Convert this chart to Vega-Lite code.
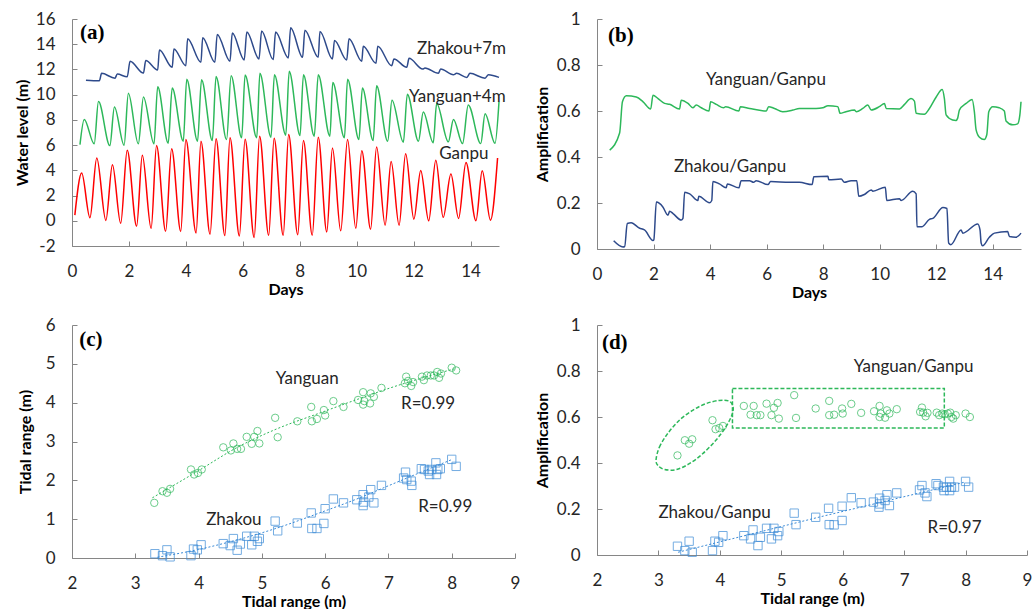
{
"$schema": "https://vega.github.io/schema/vega-lite/v6.json",
"padding": {"left": 14, "top": 10, "right": 0, "bottom": 0},
"columns": 2,
"align": "each",
"bounds": "flush",
"spacing": {"column": 82, "row": 76},
"datasets": {
"ganpu": [{"x":0.1,"y":0.45},{"x":0.34,"y":3.78},{"x":0.63,"y":0.24},{"x":0.87,"y":4.98},{"x":1.19,"y":0.03},{"x":1.42,"y":4.45},{"x":1.71,"y":-0.2},{"x":1.94,"y":5.6},{"x":2.27,"y":-0.43},{"x":2.47,"y":5.19},{"x":2.78,"y":-0.6},{"x":2.97,"y":5.96},{"x":3.29,"y":-0.83},{"x":3.5,"y":5.72},{"x":3.82,"y":-0.85},{"x":4.0,"y":6.44},{"x":4.36,"y":-0.96},{"x":4.53,"y":6.31},{"x":4.85,"y":-1.07},{"x":5.06,"y":6.5},{"x":5.37,"y":-1.17},{"x":5.55,"y":6.58},{"x":5.88,"y":-1.2},{"x":6.08,"y":6.47},{"x":6.4,"y":-1.33},{"x":6.59,"y":6.71},{"x":6.91,"y":-1.15},{"x":7.1,"y":6.55},{"x":7.42,"y":-1.15},{"x":7.61,"y":6.84},{"x":7.93,"y":-1.1},{"x":8.13,"y":6.36},{"x":8.44,"y":-1.15},{"x":8.65,"y":6.63},{"x":8.95,"y":-0.88},{"x":9.15,"y":5.78},{"x":9.44,"y":-0.8},{"x":9.68,"y":6.44},{"x":9.97,"y":-0.6},{"x":10.18,"y":5.56},{"x":10.49,"y":-0.67},{"x":10.7,"y":5.86},{"x":11.0,"y":-0.35},{"x":11.21,"y":4.71},{"x":11.49,"y":-0.35},{"x":11.72,"y":5.32},{"x":12.01,"y":0.13},{"x":12.25,"y":3.99},{"x":12.53,"y":0.0},{"x":12.78,"y":4.79},{"x":13.04,"y":0.27},{"x":13.31,"y":3.7},{"x":13.58,"y":0.19},{"x":13.84,"y":4.63},{"x":14.19,"y":0.0},{"x":14.41,"y":3.97},{"x":14.7,"y":0.05},{"x":14.95,"y":4.98}],
"yanguan": [{"x":0.28,"y":6.04},{"x":0.43,"y":8.04},{"x":0.78,"y":6.1},{"x":0.93,"y":9.45},{"x":1.33,"y":5.96},{"x":1.49,"y":9.02},{"x":1.83,"y":5.99},{"x":1.98,"y":10.12},{"x":2.33,"y":6.1},{"x":2.51,"y":9.82},{"x":2.88,"y":6.1},{"x":3.01,"y":10.62},{"x":3.38,"y":6.15},{"x":3.52,"y":10.52},{"x":3.91,"y":6.31},{"x":4.03,"y":11.23},{"x":4.41,"y":6.31},{"x":4.55,"y":11.18},{"x":4.93,"y":6.36},{"x":5.06,"y":11.45},{"x":5.43,"y":6.44},{"x":5.59,"y":11.5},{"x":5.96,"y":6.58},{"x":6.08,"y":11.55},{"x":6.49,"y":6.58},{"x":6.6,"y":11.69},{"x":6.99,"y":6.63},{"x":7.11,"y":11.58},{"x":7.51,"y":6.79},{"x":7.63,"y":11.85},{"x":8.01,"y":6.76},{"x":8.13,"y":11.58},{"x":8.51,"y":6.71},{"x":8.65,"y":11.58},{"x":9.06,"y":6.71},{"x":9.16,"y":10.97},{"x":9.57,"y":6.58},{"x":9.68,"y":11.23},{"x":10.08,"y":6.44},{"x":10.2,"y":10.52},{"x":10.58,"y":6.36},{"x":10.7,"y":10.7},{"x":11.09,"y":6.31},{"x":11.24,"y":9.56},{"x":11.64,"y":6.23},{"x":11.78,"y":10.04},{"x":12.17,"y":6.31},{"x":12.34,"y":8.62},{"x":12.69,"y":6.18},{"x":12.81,"y":9.29},{"x":13.22,"y":6.26},{"x":13.4,"y":8.04},{"x":13.72,"y":6.12},{"x":13.92,"y":9.18},{"x":14.36,"y":6.12},{"x":14.51,"y":8.49},{"x":14.86,"y":6.15},{"x":15.0,"y":9.45}],
"zhakou": [{"x":0.49,"y":11.15},{"x":0.96,"y":11.1},{"x":1.04,"y":11.69},{"x":1.51,"y":11.31},{"x":1.59,"y":11.63},{"x":1.94,"y":11.42},{"x":2.04,"y":12.65},{"x":2.51,"y":11.71},{"x":2.59,"y":12.7},{"x":3.01,"y":11.95},{"x":3.07,"y":13.55},{"x":3.52,"y":12.17},{"x":3.58,"y":13.63},{"x":4.0,"y":12.3},{"x":4.06,"y":14.43},{"x":4.53,"y":12.57},{"x":4.59,"y":14.51},{"x":5.02,"y":12.57},{"x":5.1,"y":14.78},{"x":5.55,"y":12.65},{"x":5.63,"y":14.88},{"x":6.05,"y":12.75},{"x":6.14,"y":14.96},{"x":6.57,"y":12.83},{"x":6.66,"y":15.04},{"x":7.07,"y":12.78},{"x":7.15,"y":14.96},{"x":7.6,"y":12.91},{"x":7.68,"y":15.31},{"x":8.1,"y":12.96},{"x":8.18,"y":15.1},{"x":8.65,"y":12.96},{"x":8.71,"y":15.01},{"x":9.15,"y":12.83},{"x":9.22,"y":14.3},{"x":9.65,"y":12.75},{"x":9.73,"y":14.43},{"x":10.18,"y":12.65},{"x":10.23,"y":13.84},{"x":10.68,"y":12.49},{"x":10.74,"y":13.84},{"x":11.23,"y":12.3},{"x":11.31,"y":12.83},{"x":11.76,"y":12.17},{"x":11.84,"y":12.88},{"x":12.32,"y":12.03},{"x":12.4,"y":12.11},{"x":12.87,"y":11.69},{"x":12.95,"y":12.03},{"x":13.4,"y":11.58},{"x":13.51,"y":11.69},{"x":13.87,"y":11.37},{"x":13.98,"y":11.69},{"x":14.51,"y":11.31},{"x":14.63,"y":11.58},{"x":15.0,"y":11.37}],
"ampY": [{"x":0.45,"y":0.43},{"x":0.8,"y":0.504},{"x":0.9,"y":0.64},{"x":1.04,"y":0.666},{"x":1.39,"y":0.661},{"x":1.63,"y":0.64},{"x":1.9,"y":0.609},{"x":1.98,"y":0.669},{"x":2.16,"y":0.654},{"x":2.39,"y":0.633},{"x":2.57,"y":0.629},{"x":2.92,"y":0.609},{"x":2.98,"y":0.647},{"x":3.22,"y":0.633},{"x":3.39,"y":0.614},{"x":3.51,"y":0.626},{"x":3.69,"y":0.614},{"x":3.96,"y":0.6},{"x":4.02,"y":0.64},{"x":4.22,"y":0.629},{"x":4.48,"y":0.614},{"x":4.55,"y":0.619},{"x":5.02,"y":0.6},{"x":5.07,"y":0.619},{"x":5.4,"y":0.611},{"x":5.99,"y":0.6},{"x":6.07,"y":0.619},{"x":6.28,"y":0.611},{"x":6.57,"y":0.597},{"x":6.93,"y":0.604},{"x":7.16,"y":0.611},{"x":7.75,"y":0.611},{"x":7.99,"y":0.614},{"x":8.17,"y":0.623},{"x":8.52,"y":0.619},{"x":8.6,"y":0.59},{"x":8.81,"y":0.597},{"x":9.11,"y":0.604},{"x":9.17,"y":0.597},{"x":9.4,"y":0.611},{"x":9.58,"y":0.626},{"x":9.7,"y":0.604},{"x":9.99,"y":0.619},{"x":10.17,"y":0.633},{"x":10.23,"y":0.611},{"x":10.7,"y":0.609},{"x":10.88,"y":0.629},{"x":11.11,"y":0.654},{"x":11.23,"y":0.643},{"x":11.29,"y":0.59},{"x":11.58,"y":0.586},{"x":11.76,"y":0.611},{"x":12.0,"y":0.661},{"x":12.21,"y":0.694},{"x":12.29,"y":0.654},{"x":12.35,"y":0.583},{"x":12.58,"y":0.561},{"x":12.7,"y":0.559},{"x":12.76,"y":0.569},{"x":12.82,"y":0.604},{"x":13.06,"y":0.633},{"x":13.27,"y":0.65},{"x":13.35,"y":0.597},{"x":13.41,"y":0.519},{"x":13.53,"y":0.486},{"x":13.7,"y":0.476},{"x":13.79,"y":0.497},{"x":13.86,"y":0.597},{"x":14.0,"y":0.619},{"x":14.23,"y":0.614},{"x":14.41,"y":0.6},{"x":14.47,"y":0.557},{"x":14.71,"y":0.54},{"x":14.88,"y":0.544},{"x":14.96,"y":0.583},{"x":15.0,"y":0.64}],
"ampZ": [{"x":0.59,"y":0.036},{"x":0.92,"y":0.009},{"x":0.98,"y":0.011},{"x":1.07,"y":0.111},{"x":1.21,"y":0.114},{"x":1.51,"y":0.09},{"x":1.63,"y":0.086},{"x":1.68,"y":0.083},{"x":1.98,"y":0.037},{"x":2.01,"y":0.04},{"x":2.1,"y":0.204},{"x":2.33,"y":0.183},{"x":2.51,"y":0.147},{"x":2.57,"y":0.164},{"x":2.69,"y":0.154},{"x":2.98,"y":0.126},{"x":3.04,"y":0.133},{"x":3.1,"y":0.247},{"x":3.28,"y":0.24},{"x":3.57,"y":0.211},{"x":3.6,"y":0.229},{"x":3.98,"y":0.201},{"x":4.06,"y":0.211},{"x":4.1,"y":0.294},{"x":4.33,"y":0.283},{"x":4.57,"y":0.266},{"x":4.61,"y":0.283},{"x":5.02,"y":0.266},{"x":5.1,"y":0.297},{"x":5.4,"y":0.297},{"x":5.54,"y":0.29},{"x":5.63,"y":0.297},{"x":6.05,"y":0.28},{"x":6.14,"y":0.293},{"x":6.81,"y":0.29},{"x":7.16,"y":0.29},{"x":7.61,"y":0.28},{"x":7.67,"y":0.314},{"x":8.17,"y":0.316},{"x":8.2,"y":0.301},{"x":8.64,"y":0.304},{"x":8.75,"y":0.29},{"x":8.99,"y":0.297},{"x":9.19,"y":0.297},{"x":9.26,"y":0.229},{"x":9.46,"y":0.237},{"x":9.7,"y":0.257},{"x":9.76,"y":0.251},{"x":10.2,"y":0.269},{"x":10.25,"y":0.211},{"x":10.7,"y":0.219},{"x":10.76,"y":0.211},{"x":11.17,"y":0.251},{"x":11.29,"y":0.24},{"x":11.32,"y":0.097},{"x":11.5,"y":0.097},{"x":11.76,"y":0.129},{"x":11.88,"y":0.133},{"x":12.24,"y":0.18},{"x":12.38,"y":0.176},{"x":12.44,"y":0.026},{"x":12.52,"y":0.019},{"x":12.88,"y":0.083},{"x":12.94,"y":0.069},{"x":13.47,"y":0.109},{"x":13.55,"y":0.083},{"x":13.59,"y":0.026},{"x":13.64,"y":0.014},{"x":13.88,"y":0.051},{"x":14.06,"y":0.069},{"x":14.53,"y":0.076},{"x":14.59,"y":0.054},{"x":14.82,"y":0.051},{"x":15.0,"y":0.069}],
"cY": [{"x":3.3,"y":1.42},{"x":3.43,"y":1.72},{"x":3.5,"y":1.68},{"x":3.55,"y":1.78},{"x":3.88,"y":2.28},{"x":3.93,"y":2.15},{"x":3.99,"y":2.19},{"x":4.05,"y":2.28},{"x":4.39,"y":2.85},{"x":4.51,"y":2.77},{"x":4.55,"y":2.95},{"x":4.61,"y":2.81},{"x":4.67,"y":2.81},{"x":4.76,"y":3.12},{"x":4.84,"y":2.94},{"x":4.88,"y":3.12},{"x":4.93,"y":3.27},{"x":4.96,"y":2.95},{"x":5.21,"y":3.61},{"x":5.25,"y":3.11},{"x":5.56,"y":3.52},{"x":5.78,"y":3.89},{"x":5.79,"y":3.52},{"x":5.87,"y":3.58},{"x":5.98,"y":3.81},{"x":6.0,"y":3.67},{"x":6.13,"y":4.04},{"x":6.29,"y":3.89},{"x":6.52,"y":4.07},{"x":6.6,"y":4.27},{"x":6.6,"y":3.95},{"x":6.62,"y":4.04},{"x":6.71,"y":3.98},{"x":6.72,"y":4.24},{"x":6.77,"y":4.15},{"x":6.89,"y":4.38},{"x":7.26,"y":4.5},{"x":7.28,"y":4.67},{"x":7.31,"y":4.56},{"x":7.36,"y":4.43},{"x":7.39,"y":4.53},{"x":7.53,"y":4.67},{"x":7.56,"y":4.58},{"x":7.61,"y":4.7},{"x":7.67,"y":4.7},{"x":7.72,"y":4.7},{"x":7.77,"y":4.79},{"x":7.8,"y":4.64},{"x":7.83,"y":4.75},{"x":8.0,"y":4.9},{"x":8.07,"y":4.83}],
"cZ": [{"x":3.31,"y":0.11},{"x":3.43,"y":0.06},{"x":3.5,"y":0.21},{"x":3.55,"y":0.03},{"x":3.88,"y":0.06},{"x":3.92,"y":0.23},{"x":3.98,"y":0.21},{"x":4.04,"y":0.34},{"x":4.39,"y":0.37},{"x":4.5,"y":0.32},{"x":4.55,"y":0.5},{"x":4.61,"y":0.2},{"x":4.66,"y":0.36},{"x":4.76,"y":0.56},{"x":4.84,"y":0.34},{"x":4.88,"y":0.56},{"x":4.93,"y":0.43},{"x":4.96,"y":0.5},{"x":5.21,"y":0.95},{"x":5.25,"y":0.7},{"x":5.56,"y":0.9},{"x":5.78,"y":1.16},{"x":5.79,"y":0.76},{"x":5.87,"y":0.76},{"x":5.98,"y":0.89},{"x":6.0,"y":1.27},{"x":6.13,"y":1.52},{"x":6.29,"y":1.42},{"x":6.5,"y":1.5},{"x":6.6,"y":1.63},{"x":6.6,"y":1.35},{"x":6.61,"y":1.44},{"x":6.69,"y":1.57},{"x":6.72,"y":1.76},{"x":6.77,"y":1.42},{"x":6.89,"y":1.87},{"x":7.24,"y":2.06},{"x":7.27,"y":2.21},{"x":7.29,"y":2.02},{"x":7.36,"y":1.98},{"x":7.37,"y":1.87},{"x":7.52,"y":2.3},{"x":7.57,"y":2.28},{"x":7.63,"y":2.24},{"x":7.65,"y":2.15},{"x":7.68,"y":2.28},{"x":7.75,"y":2.45},{"x":7.76,"y":2.15},{"x":7.78,"y":2.28},{"x":7.82,"y":2.3},{"x":8.0,"y":2.54},{"x":8.07,"y":2.36}],
"cYfit": [{"x":3.27,"y":1.55},{"x":4.0,"y":2.25},{"x":4.59,"y":2.83},{"x":5.2,"y":3.3},{"x":5.96,"y":3.76},{"x":6.5,"y":4.08},{"x":7.01,"y":4.37},{"x":7.5,"y":4.62},{"x":8.06,"y":4.88}],
"cZfit": [{"x":3.35,"y":0.02},{"x":4.0,"y":0.22},{"x":4.48,"y":0.41},{"x":5.2,"y":0.75},{"x":5.96,"y":1.19},{"x":6.5,"y":1.52},{"x":7.0,"y":1.86},{"x":7.5,"y":2.2},{"x":8.01,"y":2.54}],
"dY": [{"x":3.31,"y":0.433},{"x":3.43,"y":0.499},{"x":3.5,"y":0.484},{"x":3.55,"y":0.503},{"x":3.88,"y":0.586},{"x":3.93,"y":0.547},{"x":3.99,"y":0.552},{"x":4.05,"y":0.561},{"x":4.39,"y":0.648},{"x":4.5,"y":0.61},{"x":4.55,"y":0.648},{"x":4.6,"y":0.608},{"x":4.66,"y":0.608},{"x":4.76,"y":0.658},{"x":4.84,"y":0.608},{"x":4.88,"y":0.64},{"x":4.94,"y":0.661},{"x":4.96,"y":0.593},{"x":5.21,"y":0.695},{"x":5.24,"y":0.596},{"x":5.56,"y":0.637},{"x":5.78,"y":0.67},{"x":5.78,"y":0.608},{"x":5.86,"y":0.61},{"x":5.99,"y":0.637},{"x":6.0,"y":0.615},{"x":6.14,"y":0.657},{"x":6.3,"y":0.618},{"x":6.51,"y":0.625},{"x":6.6,"y":0.648},{"x":6.6,"y":0.6},{"x":6.62,"y":0.615},{"x":6.69,"y":0.597},{"x":6.72,"y":0.629},{"x":6.76,"y":0.615},{"x":6.88,"y":0.634},{"x":7.26,"y":0.622},{"x":7.29,"y":0.641},{"x":7.31,"y":0.619},{"x":7.35,"y":0.603},{"x":7.38,"y":0.618},{"x":7.53,"y":0.619},{"x":7.57,"y":0.608},{"x":7.62,"y":0.615},{"x":7.66,"y":0.612},{"x":7.71,"y":0.615},{"x":7.75,"y":0.619},{"x":7.77,"y":0.6},{"x":7.8,"y":0.593},{"x":7.84,"y":0.608},{"x":8.0,"y":0.615},{"x":8.07,"y":0.6}],
"dZ": [{"x":3.31,"y":0.038},{"x":3.43,"y":0.019},{"x":3.5,"y":0.06},{"x":3.55,"y":0.012},{"x":3.88,"y":0.019},{"x":3.92,"y":0.06},{"x":3.98,"y":0.055},{"x":4.05,"y":0.084},{"x":4.39,"y":0.084},{"x":4.5,"y":0.07},{"x":4.54,"y":0.109},{"x":4.62,"y":0.041},{"x":4.66,"y":0.077},{"x":4.76,"y":0.116},{"x":4.84,"y":0.07},{"x":4.88,"y":0.116},{"x":4.94,"y":0.084},{"x":4.96,"y":0.102},{"x":5.21,"y":0.182},{"x":5.24,"y":0.132},{"x":5.56,"y":0.164},{"x":5.77,"y":0.203},{"x":5.78,"y":0.132},{"x":5.86,"y":0.131},{"x":5.99,"y":0.212},{"x":5.99,"y":0.15},{"x":6.14,"y":0.249},{"x":6.3,"y":0.227},{"x":6.5,"y":0.23},{"x":6.6,"y":0.247},{"x":6.59,"y":0.208},{"x":6.6,"y":0.222},{"x":6.69,"y":0.237},{"x":6.72,"y":0.262},{"x":6.76,"y":0.215},{"x":6.88,"y":0.27},{"x":7.25,"y":0.283},{"x":7.29,"y":0.302},{"x":7.34,"y":0.27},{"x":7.37,"y":0.254},{"x":7.52,"y":0.31},{"x":7.55,"y":0.302},{"x":7.64,"y":0.295},{"x":7.65,"y":0.28},{"x":7.69,"y":0.295},{"x":7.74,"y":0.32},{"x":7.74,"y":0.28},{"x":7.77,"y":0.295},{"x":7.82,"y":0.295},{"x":8.0,"y":0.32},{"x":8.05,"y":0.295}],
"dZfit": [{"x":3.32,"y":0.012},{"x":5.62,"y":0.165},{"x":7.99,"y":0.317}],
"dRect": [{"x":4.205,"x2":7.654,"y":0.552,"y2":0.724}],
"dEllipse": [{"o":1,"x":2.962,"y":0.416},{"o":2,"x":3.016,"y":0.469},{"o":3,"x":3.151,"y":0.528},{"o":4,"x":3.341,"y":0.586},{"o":5,"x":3.557,"y":0.629},{"o":6,"x":3.773,"y":0.658},{"o":7,"x":3.989,"y":0.672},{"o":8,"x":4.151,"y":0.669},{"o":9,"x":4.216,"y":0.644},{"o":10,"x":4.195,"y":0.608},{"o":11,"x":4.097,"y":0.557},{"o":12,"x":3.935,"y":0.499},{"o":13,"x":3.719,"y":0.44},{"o":14,"x":3.503,"y":0.397},{"o":15,"x":3.286,"y":0.371},{"o":16,"x":3.097,"y":0.372},{"o":17,"x":2.989,"y":0.39}]
},
"concat": [
{
"width": 427, "height": 227,
"encoding": {
"x": {"field": "x", "type": "quantitative", "scale": {"domain": [0, 15], "nice": false}, "axis": {"title": "Days", "values": [0,2,4,6,8,10,12,14]}},
"y": {"field": "y", "type": "quantitative", "scale": {"domain": [-2, 16], "nice": false}, "axis": {"title": "Water level (m)", "values": [-2,0,2,4,6,8,10,12,14,16], "titlePadding": 5}}
},
"layer": [
{"data": {"name": "zhakou"}, "mark": {"type": "line", "color": "#2e4a8b", "strokeWidth": 1.5, "interpolate": "monotone"}},
{"data": {"name": "yanguan"}, "mark": {"type": "line", "color": "#2db85a", "strokeWidth": 1.5, "interpolate": "monotone"}},
{"data": {"name": "ganpu"}, "mark": {"type": "line", "color": "#ff0000", "strokeWidth": 1.5, "interpolate": "monotone"}},
{"data": {"values": [{"x":12.12,"y":13.6,"t":"Zhakou+7m"},{"x":11.84,"y":9.84,"t":"Yanguan+4m"},{"x":12.9,"y":5.28,"t":"Ganpu"}]}, "mark": {"type": "text", "align": "left", "baseline": "middle"}, "encoding": {"text": {"field": "t"}}},
{"data": {"values": [{"x":0.28,"y":14.88,"t":"(a)"}]}, "mark": {"type": "text", "align": "left", "baseline": "middle", "font": "Liberation Serif", "fontWeight": "bold", "fontSize": 21, "color": "#000"}, "encoding": {"text": {"field": "t"}}}
]
},
{
"width": 424, "height": 230,
"encoding": {
"x": {"field": "x", "type": "quantitative", "scale": {"domain": [0, 15], "nice": false}, "axis": {"title": "Days", "values": [0,2,4,6,8,10,12,14]}},
"y": {"field": "y", "type": "quantitative", "scale": {"domain": [0, 1], "nice": false}, "axis": {"title": "Amplification", "values": [0,0.2,0.4,0.6,0.8,1], "format": "~g", "titlePadding": 6}}
},
"layer": [
{"data": {"name": "ampY"}, "mark": {"type": "line", "color": "#2db85a", "strokeWidth": 1.5, "interpolate": "monotone"}},
{"data": {"name": "ampZ"}, "mark": {"type": "line", "color": "#2e4a8b", "strokeWidth": 1.5, "interpolate": "monotone"}},
{"data": {"values": [{"x":3.86,"y":0.734,"t":"Yanguan/Ganpu"},{"x":2.72,"y":0.356,"t":"Zhakou/Ganpu"}]}, "mark": {"type": "text", "align": "left", "baseline": "middle"}, "encoding": {"text": {"field": "t"}}},
{"data": {"values": [{"x":0.39,"y":0.927,"t":"(b)"}]}, "mark": {"type": "text", "align": "left", "baseline": "middle", "font": "Liberation Serif", "fontWeight": "bold", "fontSize": 21, "color": "#000"}, "encoding": {"text": {"field": "t"}}}
]
},
{
"width": 443, "height": 233,
"encoding": {
"x": {"field": "x", "type": "quantitative", "scale": {"domain": [2, 9], "nice": false}, "axis": {"title": "Tidal range (m)", "values": [2,3,4,5,6,7,8,9]}},
"y": {"field": "y", "type": "quantitative", "scale": {"domain": [0, 6], "nice": false}, "axis": {"title": "Tidal range (m)", "values": [0,1,2,3,4,5,6], "titlePadding": 12}}
},
"layer": [
{"data": {"name": "cYfit"}, "mark": {"type": "line", "color": "#2db85a", "strokeWidth": 1, "strokeDash": [2, 2], "interpolate": "monotone"}},
{"data": {"name": "cZfit"}, "mark": {"type": "line", "color": "#3a8ad6", "strokeWidth": 1, "strokeDash": [2, 2], "interpolate": "monotone"}},
{"data": {"name": "cY"}, "mark": {"type": "point", "shape": "circle", "filled": false, "size": 55, "strokeWidth": 1, "color": "#2db85a"}},
{"data": {"name": "cZ"}, "mark": {"type": "point", "shape": "square", "filled": false, "size": 70, "strokeWidth": 1, "color": "#3a8ad6"}},
{"data": {"values": [{"x":5.22,"y":4.61,"t":"Yanguan"},{"x":7.2,"y":3.96,"t":"R=0.99"},{"x":4.12,"y":0.97,"t":"Zhakou"},{"x":7.47,"y":1.31,"t":"R=0.99"}]}, "mark": {"type": "text", "align": "left", "baseline": "middle"}, "encoding": {"text": {"field": "t"}}},
{"data": {"values": [{"x":2.115,"y":5.61,"t":"(c)"}]}, "mark": {"type": "text", "align": "left", "baseline": "middle", "font": "Liberation Serif", "fontWeight": "bold", "fontSize": 21, "color": "#000"}, "encoding": {"text": {"field": "t"}}}
]
},
{
"width": 430, "height": 230,
"encoding": {
"x": {"field": "x", "type": "quantitative", "scale": {"domain": [2, 9], "nice": false}, "axis": {"title": "Tidal range (m)", "values": [2,3,4,5,6,7,8,9]}},
"y": {"field": "y", "type": "quantitative", "scale": {"domain": [0, 1], "nice": false}, "axis": {"title": "Amplification", "values": [0,0.2,0.4,0.6,0.8,1], "format": "~g", "titlePadding": 6}}
},
"layer": [
{"data": {"name": "dRect"}, "mark": {"type": "rect", "filled": false, "color": "#2db85a", "strokeWidth": 1.5, "strokeDash": [4, 2]}, "encoding": {"x2": {"field": "x2"}, "y2": {"field": "y2"}}},
{"data": {"name": "dEllipse"}, "mark": {"type": "line", "color": "#2db85a", "strokeWidth": 1.5, "strokeDash": [4, 2], "interpolate": "cardinal-closed"}, "encoding": {"order": {"field": "o"}}},
{"data": {"name": "dZfit"}, "mark": {"type": "line", "color": "#3a8ad6", "strokeWidth": 1, "strokeDash": [2, 2]}},
{"data": {"name": "dY"}, "mark": {"type": "point", "shape": "circle", "filled": false, "size": 55, "strokeWidth": 1, "color": "#2db85a"}},
{"data": {"name": "dZ"}, "mark": {"type": "point", "shape": "square", "filled": false, "size": 70, "strokeWidth": 1, "color": "#3a8ad6"}},
{"data": {"values": [{"x":6.18,"y":0.817,"t":"Yanguan/Ganpu"},{"x":3.0,"y":0.184,"t":"Zhakou/Ganpu"},{"x":7.38,"y":0.119,"t":"R=0.97"}]}, "mark": {"type": "text", "align": "left", "baseline": "middle"}, "encoding": {"text": {"field": "t"}}},
{"data": {"values": [{"x":2.08,"y":0.921,"t":"(d)"}]}, "mark": {"type": "text", "align": "left", "baseline": "middle", "font": "Liberation Serif", "fontWeight": "bold", "fontSize": 21, "color": "#000"}, "encoding": {"text": {"field": "t"}}}
]
}
],
"config": {
"font": "Lato",
"view": {"stroke": null},
"axis": {"grid": false, "labelFont": "Lato", "labelFontSize": 17, "labelColor": "#262626", "labelExpr": "replace(datum.label, '\u2212', '-')", "titleFont": "Lato", "titleFontSize": 16, "titleFontWeight": "bold", "titleColor": "#000000", "domainColor": "#868686", "tickColor": "#868686", "tickSize": -5, "labelPadding": 22, "labelFlush": false, "labelOverlap": false, "titlePadding": 2},
"text": {"font": "Lato", "fontSize": 17, "color": "#262626"}
}
}
